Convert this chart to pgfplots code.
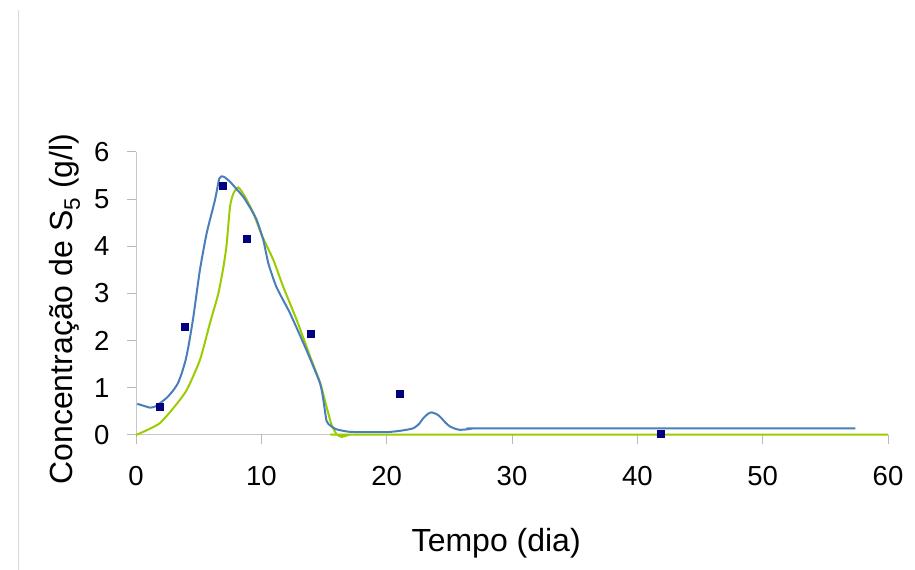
\documentclass[border=0pt]{standalone}
\usepackage{pgfplots}
\pgfplotsset{compat=1.18}
\usepackage{fontspec}
\setmainfont{Liberation Sans}
\definecolor{blueline}{RGB}{74,126,187}
\definecolor{greenline}{RGB}{154,204,0}
\definecolor{navymark}{RGB}{0,0,128}
\begin{document}
\begin{tikzpicture}[x=1bp,y=1bp]
\useasboundingbox (0,0) rectangle (915,570);
\draw[gray!30, line width=1bp] (18,0) -- (18,560);
\begin{axis}[
  at={(136bp,135bp)}, anchor=south west,
  scale only axis, width=752bp, height=283bp,
  xmin=0, xmax=60, ymin=0, ymax=6,
  clip=false,
  axis x line=bottom, axis y line=left,
  axis line style={-, draw=gray!45, line width=1bp},
  tick style={draw=gray!55, line width=1bp},
  tick align=outside, major tick length=9bp,
  xtick={0,10,...,60}, ytick={0,1,...,6},
  /pgf/number format/assume math mode=true,
  tick label style={font=\fontsize{27.5bp}{31bp}\selectfont},
  yticklabel style={xshift=-14bp},
  xticklabel style={yshift=-19bp},
  xlabel={Tempo (dia)},
  ylabel={Concentração de S\textsubscript{5} (g/l)},
  label style={font=\fontsize{32bp}{36bp}\selectfont},
  xlabel style={at={(axis description cs:0.479,-0.413)}, anchor=base},
  ylabel style={at={(axis description cs:-0.0838,0.445)}, anchor=base, rotate=0},
]
\addplot[color=greenline, line width=2bp, smooth, tension=0.35] coordinates {
(0,0.0) (0.85,0.10) (1.9,0.25) (2.98,0.57) (4.04,0.95) (5.1,1.59) (5.9,2.37)
(6.57,3.0) (7.0,3.6) (7.24,4.06) (7.5,4.84) (7.77,5.12) (8.17,5.25) (8.7,5.05)
(9.37,4.7) (10.03,4.24) (10.96,3.71) (11.75,3.14) (12.82,2.44) (13.9,1.66)
(14.7,1.10) (15.2,0.6) (15.6,0.22) (16.0,0.02) (16.4,-0.04) (16.95,0.0)
(17.5,0.01) (60,0.01)
};
\addplot[color=blueline, line width=2bp, smooth, tension=0.35] coordinates {
(0.1,0.66) (0.6,0.62) (1.12,0.58) (1.5,0.60) (1.9,0.67) (2.5,0.80) (2.98,0.95)
(3.35,1.10) (3.65,1.31) (3.95,1.58) (4.18,1.87) (4.58,2.51) (5.1,3.5) (5.64,4.28)
(6.3,4.98) (6.65,5.44) (6.97,5.48) (7.5,5.37) (8.0,5.22) (8.56,5.05) (9.1,4.82)
(9.63,4.56) (10.16,4.13) (10.56,3.64) (11.2,3.14) (12.29,2.58) (13.6,1.80)
(14.68,1.10) (14.95,0.74) (15.2,0.30) (15.5,0.20) (16.0,0.12) (16.95,0.07)
(18,0.06) (20,0.06) (21.1,0.09) (22.1,0.14) (22.6,0.24) (22.9,0.35) (23.3,0.45)
(23.6,0.48) (24.0,0.44) (24.25,0.39) (24.7,0.26) (25.05,0.18) (25.5,0.13)
(25.85,0.11) (26.4,0.12) (26.9,0.14) (28,0.14) (57.4,0.14)
};
\addplot[only marks, mark=square*, mark size=3.5bp, color=navymark] coordinates {
(1.9,0.59) (3.9,2.29) (6.94,5.28) (8.86,4.16) (13.96,2.14) (21,0.87) (41.9,0.02)
};
\end{axis}
\end{tikzpicture}
\end{document}
